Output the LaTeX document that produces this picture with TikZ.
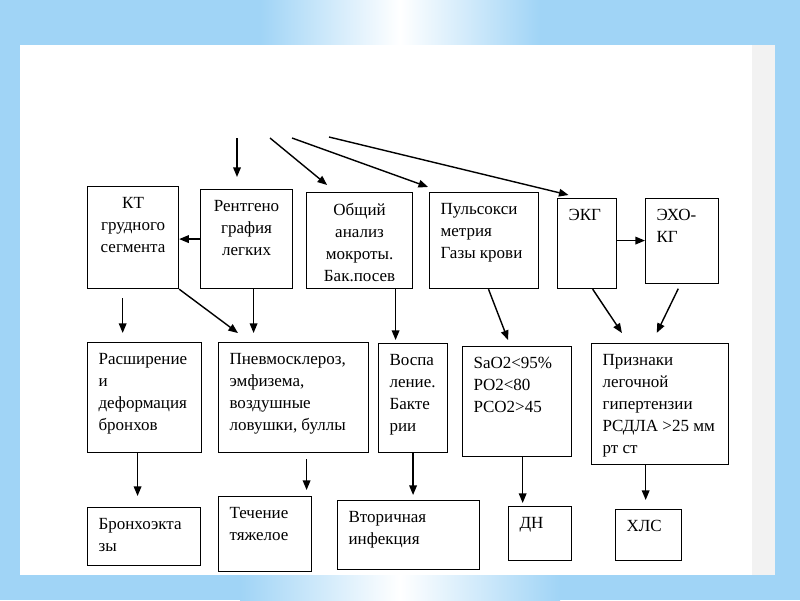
\documentclass[tikz,border=0pt]{standalone}
\usepackage{fontspec}
\setmainfont{Liberation Serif}
\usetikzlibrary{arrows.meta,calc}
\definecolor{frameblue}{RGB}{160,212,246}

\begin{document}
\begin{tikzpicture}[
    x=0.025cm, y=-0.025cm,
    box/.style={rectangle, draw, line width=0.8pt, inner sep=0.275cm, anchor=north west, font=\fontsize{12.1}{15.6}\selectfont},
    arrow/.style={-{Triangle[length=0.24cm, width=0.19cm]}, line width=1pt},
]
\useasboundingbox (0,0) rectangle (800,600);

% ====== Background ======
\fill[frameblue] (0,0) rectangle (800,600);
\shade[left color=frameblue, right color=white] (260,0) rectangle (400,45);
\shade[left color=white, right color=frameblue] (400,0) rectangle (540,45);
\shade[left color=frameblue, right color=white] (240,575) rectangle (400,600);
\shade[left color=white, right color=frameblue] (400,575) rectangle (560,600);
\fill[white] (20,45) rectangle (775,575);
\fill[black!5] (752,45) rectangle (775,575);

% ====== Row 1: examinations ======
\node[box] (kt) at (87,186) {\parbox[t][2cm][t]{1.725cm}{\centering КТ\\грудного\\сегмента}};
\node[box] (rentgen) at (200,189) {\parbox[t][1.925cm][t]{1.75cm}{\centering Рентгено\\графия\\легких}};
\node[box] (obsh) at (306,192) {\parbox[t][1.85cm][t]{2.1cm}{\centering Общий\\анализ\\мокроты.\\Бак.посев}};
\node[box] (puls) at (429,192) {\parbox[t][1.85cm][t]{2.175cm}{Пульсокси\\метрия\\Газы~крови}};
\node[box] (ekg) at (557,198) {\parbox[t][1.7cm][t]{0.925cm}{ЭКГ}};
\node[box] (echo) at (645,198) {\parbox[t][1.575cm][t]{1.275cm}{ЭХО-\\КГ}};

% ====== Row 2: findings ======
\node[box] (rassh) at (87,342) {\parbox[t][2.2cm][t]{2.3cm}{Расширение\\и\\деформация\\бронхов}};
\node[box] (pnevmo) at (218,342) {\parbox[t][2.2cm][t]{3.2cm}{Пневмосклероз,\\эмфизема,\\воздушные\\ловушки,~буллы}};
\node[box] (vospa) at (378,343) {\parbox[t][2.175cm][t]{1.175cm}{Воспа\\ление.\\Бакте\\рии}};
\node[box] (sao) at (462,346) {\parbox[t][2.2cm][t]{2.175cm}{SaO2<95\%\\PO2<80\\PCO2>45}};
\node[box] (prizn) at (591,343) {\parbox[t][2.475cm][t]{2.875cm}{Признаки\\легочной\\гипертензии\\РСДЛА~>25~мм\\рт~ст}};

% ====== Row 3: outcomes ======
\node[box] (bronh) at (87,507) {\parbox[t][0.9cm][t]{2.275cm}{Бронхоэкта\\зы}};
\node[box] (tech) at (218,496) {\parbox[t][1.325cm][t]{1.775cm}{Течение\\тяжелое}};
\node[box] (vtor) at (337,500) {\parbox[t][1.175cm][t]{3cm}{Вторичная\\инфекция}};
\node[box] (dn) at (508,506) {\parbox[t][0.8cm][t]{1.025cm}{ДН}};
\node[box] (hls) at (615,509) {\parbox[t][0.725cm][t]{1.1cm}{ХЛС}};

% ====== Incoming arrows ======
\coordinate (s0) at (237,138);
\coordinate (s1) at (270,138);
\coordinate (s2) at (292,138);
\coordinate (s3) at (329,137);
\draw[arrow, shorten >=0.3cm] (s0) -- (s0 |- rentgen.north);
\draw[arrow, shorten >=0.275cm] (s1) -- ([xshift=0.74cm]obsh.north west);
\draw[arrow, shorten >=0.37cm] (s2) -- ([xshift=0.325cm]puls.north west);
\draw[arrow, shorten >=0.32cm] (s3) -- ([xshift=0.6cm]ekg.north west);

% ====== Row 1 links ======
\draw[arrow] (rentgen.west) -- (kt.east |- rentgen.west);
\draw[arrow] ([yshift=0.075cm]ekg.east) -- ([yshift=0.075cm]ekg.east -| echo.west);

% ====== Row 1 -> Row 2 ======
\draw[arrow, shorten <=0.225cm, shorten >=0.225cm] ([xshift=-0.26cm]kt.south) -- ([xshift=-0.26cm]kt.south |- rassh.north);
\draw[arrow, shorten >=0.375cm] (kt.south east) -- ([xshift=0.8cm]pnevmo.north west);
\draw[arrow, shorten >=0.225cm] ([xshift=0.175cm]rentgen.south) -- ([xshift=0.175cm]rentgen.south |- pnevmo.north);
\draw[arrow, shorten >=0.075cm] ([xshift=0.9cm]obsh.south) -- ([xshift=0.9cm]obsh.south |- vospa.north);
\draw[arrow, shorten >=0.16cm] ([xshift=0.11cm]puls.south) -- ([xshift=1.21cm]sao.north west);
\draw[arrow, shorten >=0.3cm] ([xshift=0.14cm]ekg.south) -- ([xshift=0.94cm]prizn.north west);
\draw[arrow, shorten <=0.125cm, shorten >=0.28cm] ([xshift=-0.04cm]echo.south) -- ([xshift=1.52cm]prizn.north west);

% ====== Row 2 -> Row 3 ======
\draw[arrow, shorten >=0.275cm] ([xshift=-0.175cm]rassh.south) -- ([xshift=-0.175cm]rassh.south |- bronh.north);
\draw[arrow, shorten <=0.15cm, shorten >=0.15cm] ([xshift=0.325cm]pnevmo.south) -- ([xshift=0.325cm]pnevmo.south |- tech.north);
\draw[arrow, shorten >=0.125cm] (vospa.south) -- (vospa.south |- vtor.north);
\draw[arrow, shorten >=0.075cm] ([xshift=0.14cm]sao.south) -- ([xshift=0.14cm]sao.south |- dn.north);
\draw[arrow, shorten >=0.225cm] ([xshift=-0.36cm]prizn.south) -- ([xshift=-0.36cm]prizn.south |- hls.north);

\end{tikzpicture}
\end{document}
